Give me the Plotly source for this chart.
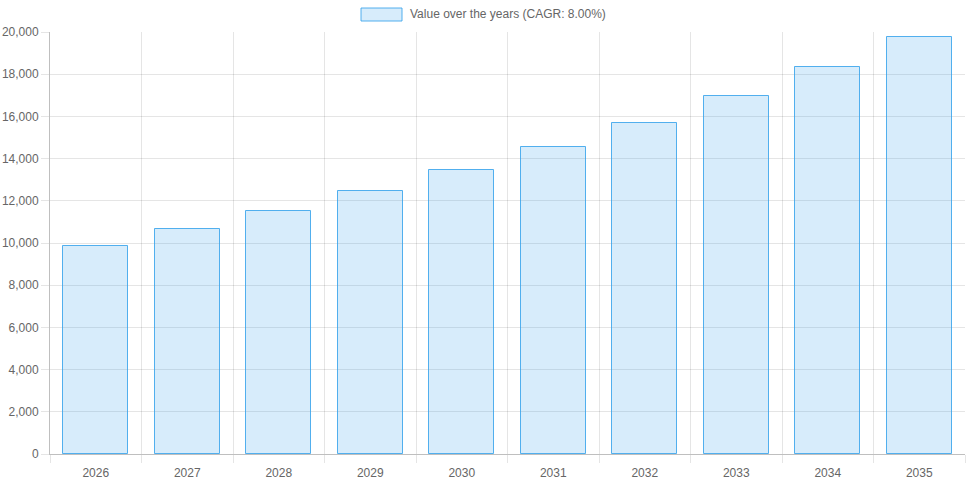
import plotly.graph_objects as go

years = ["2026", "2027", "2028", "2029", "2030", "2031", "2032", "2033", "2034", "2035"]
values = [9880, 10680, 11540, 12460, 13460, 14530, 15700, 16960, 18320, 19780]
series_name = "Value over the years (CAGR: 8.00%)"
y_ticks = list(range(0, 20001, 2000))

FONT = "Liberation Sans, Arial, Helvetica, sans-serif"
GRID = "rgba(0,0,0,0.1)"
FILL = "rgba(54,162,235,0.2)"
LINE = "rgba(54,162,235,0.85)"

xpos = list(range(len(years)))

fig = go.Figure()
fig.add_trace(go.Bar(
    x=xpos, y=values, name=series_name, width=0.71,
    marker=dict(color=FILL, line=dict(color=LINE, width=1)),
    showlegend=False, hovertemplate="%{y:,}<extra></extra>",
))

fig.update_layout(
    width=966, height=483,
    margin=dict(l=50, r=1, t=32, b=29),
    paper_bgcolor="white", plot_bgcolor="white",
    font=dict(family=FONT, size=12, color="#666"),
    bargap=0,
    xaxis=dict(
        range=[-0.5, len(years) - 0.5],
        tickmode="array", tickvals=xpos, ticktext=years,
        showgrid=False, ticks="outside", ticklen=8, tickcolor="rgba(0,0,0,0)",
        showline=True, linecolor="rgba(0,0,0,0.25)", linewidth=1,
        zeroline=False,
        minor=dict(
            tickmode="array",
            tickvals=[i - 0.5 for i in range(len(years) + 1)],
            showgrid=True, gridcolor=GRID, gridwidth=1,
            ticks="outside", ticklen=8, tickcolor=GRID,
        ),
        fixedrange=True,
    ),
    yaxis=dict(
        range=[0, 20000], tickmode="array", tickvals=y_ticks,
        tickformat=",", showgrid=True, gridcolor=GRID, gridwidth=1,
        ticks="outside", ticklen=8, tickcolor=GRID,
        showline=True, linecolor="rgba(0,0,0,0.25)", linewidth=1,
        zeroline=False, fixedrange=True,
    ),
)

# Chart.js-style legend (wide box + label)
fig.add_shape(type="rect", xref="paper", yref="paper",
              x0=(361 - 50) / 915, x1=(402 - 50) / 915,
              y0=(454 - 21) / 422, y1=(454 - 8) / 422,
              fillcolor=FILL, line=dict(color=LINE, width=1))
fig.add_annotation(xref="paper", yref="paper", x=(408 - 50) / 915, y=(454 - 14.5) / 422,
                   text=series_name, showarrow=False, xanchor="left", yanchor="middle",
                   font=dict(family=FONT, size=12, color="#666"))

fig.write_html("out.html", config={"displayModeBar": False},
               post_script="document.body.style.margin='0';document.body.style.padding='0';")
